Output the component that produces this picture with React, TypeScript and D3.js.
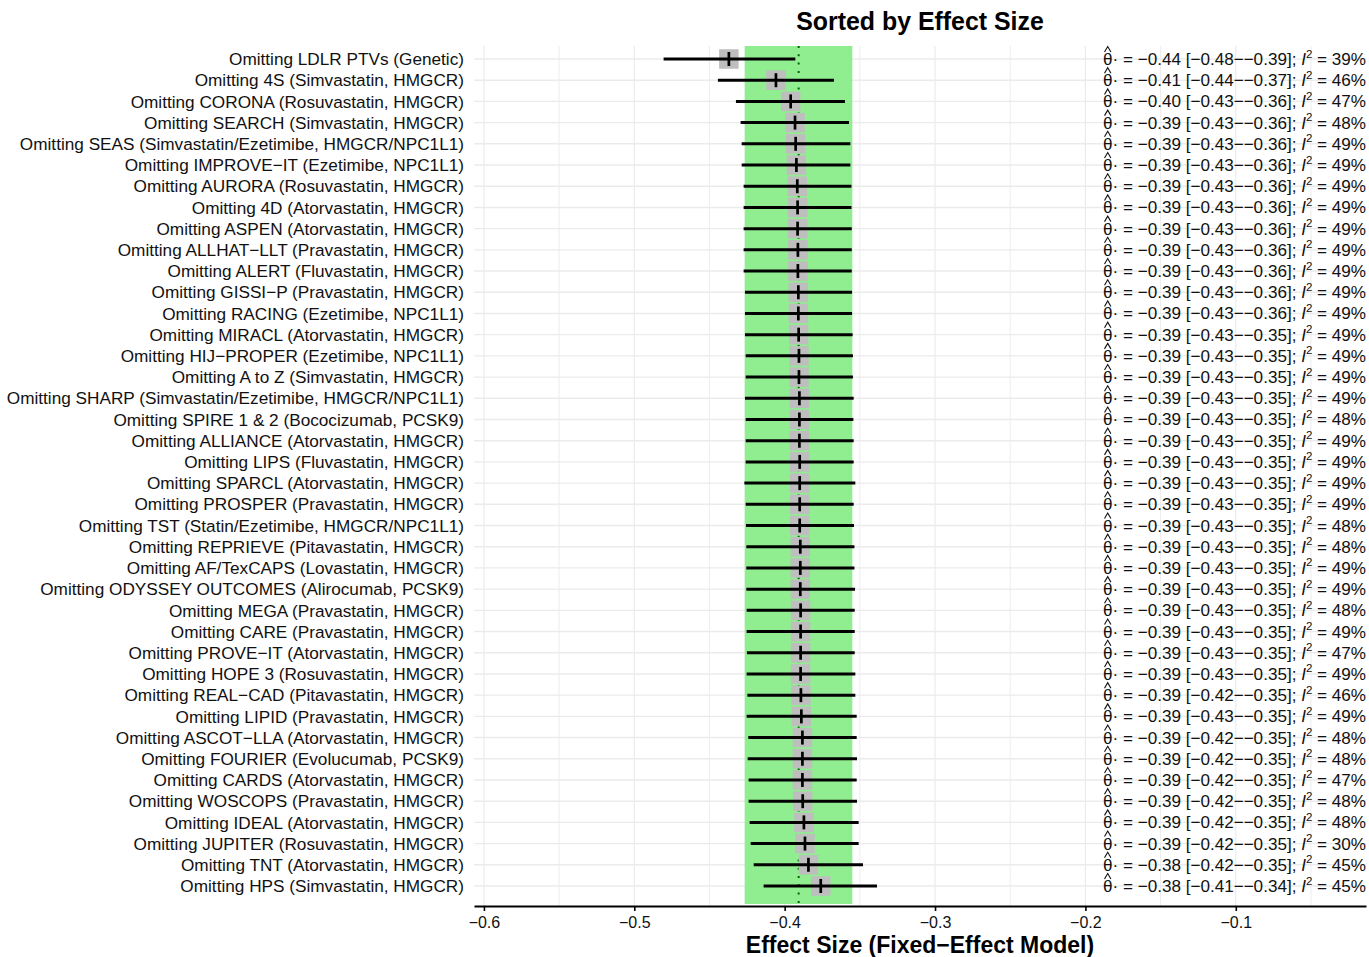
// Leave-one-out forest plot, sorted by pooled effect size.
import { useEffect, useRef } from "react";
import * as d3 from "d3";

const studies = [
  "LDLR PTVs (Genetic)",
  "4S (Simvastatin, HMGCR)",
  "CORONA (Rosuvastatin, HMGCR)",
  "SEARCH (Simvastatin, HMGCR)",
  "SEAS (Simvastatin/Ezetimibe, HMGCR/NPC1L1)",
  "IMPROVE−IT (Ezetimibe, NPC1L1)",
  "AURORA (Rosuvastatin, HMGCR)",
  "4D (Atorvastatin, HMGCR)",
  "ASPEN (Atorvastatin, HMGCR)",
  "ALLHAT−LLT (Pravastatin, HMGCR)",
  "ALERT (Fluvastatin, HMGCR)",
  "GISSI−P (Pravastatin, HMGCR)",
  "RACING (Ezetimibe, NPC1L1)",
  "MIRACL (Atorvastatin, HMGCR)",
  "HIJ−PROPER (Ezetimibe, NPC1L1)",
  "A to Z (Simvastatin, HMGCR)",
  "SHARP (Simvastatin/Ezetimibe, HMGCR/NPC1L1)",
  "SPIRE 1 & 2 (Bococizumab, PCSK9)",
  "ALLIANCE (Atorvastatin, HMGCR)",
  "LIPS (Fluvastatin, HMGCR)",
  "SPARCL (Atorvastatin, HMGCR)",
  "PROSPER (Pravastatin, HMGCR)",
  "TST (Statin/Ezetimibe, HMGCR/NPC1L1)",
  "REPRIEVE (Pitavastatin, HMGCR)",
  "AF/TexCAPS (Lovastatin, HMGCR)",
  "ODYSSEY OUTCOMES (Alirocumab, PCSK9)",
  "MEGA (Pravastatin, HMGCR)",
  "CARE (Pravastatin, HMGCR)",
  "PROVE−IT (Atorvastatin, HMGCR)",
  "HOPE 3 (Rosuvastatin, HMGCR)",
  "REAL−CAD (Pitavastatin, HMGCR)",
  "LIPID (Pravastatin, HMGCR)",
  "ASCOT−LLA (Atorvastatin, HMGCR)",
  "FOURIER (Evolucumab, PCSK9)",
  "CARDS (Atorvastatin, HMGCR)",
  "WOSCOPS (Pravastatin, HMGCR)",
  "IDEAL (Atorvastatin, HMGCR)",
  "JUPITER (Rosuvastatin, HMGCR)",
  "TNT (Atorvastatin, HMGCR)",
  "HPS (Simvastatin, HMGCR)",
];

const estimate = [
  -0.4371, -0.4058, -0.396, -0.3931, -0.3927, -0.3922, -0.3916, -0.3914, -0.3914, -0.3912,
  -0.3912, -0.3909, -0.3909, -0.3907, -0.3905, -0.3905, -0.3902, -0.3902, -0.3902, -0.39,
  -0.39, -0.39, -0.39, -0.3896, -0.3896, -0.3896, -0.3894, -0.3894, -0.3894, -0.3894,
  -0.3892, -0.3889, -0.3882, -0.3882, -0.3882, -0.388, -0.3872, -0.3865, -0.3842, -0.376,
];

const lower = [
  -0.4805, -0.4444, -0.4324, -0.4293, -0.4286, -0.4286, -0.4273, -0.4273, -0.4273, -0.4273,
  -0.4273, -0.4264, -0.4264, -0.4264, -0.4259, -0.4259, -0.4264, -0.4259, -0.4259, -0.4259,
  -0.4268, -0.4259, -0.4257, -0.4255, -0.4255, -0.4255, -0.4253, -0.4253, -0.4251, -0.4253,
  -0.4248, -0.4253, -0.4242, -0.4246, -0.424, -0.424, -0.4233, -0.4226, -0.4206, -0.414,
];

const upper = [
  -0.3929, -0.3672, -0.3599, -0.3572, -0.3563, -0.3563, -0.3556, -0.3556, -0.3554, -0.3554,
  -0.3554, -0.3552, -0.3552, -0.3548, -0.3546, -0.3546, -0.3541, -0.3543, -0.3541, -0.3541,
  -0.353, -0.3541, -0.3539, -0.3536, -0.3536, -0.3532, -0.3534, -0.3534, -0.3534, -0.353,
  -0.353, -0.3521, -0.3521, -0.3519, -0.3521, -0.3519, -0.3508, -0.3508, -0.3479, -0.3386,
];

const i2 = [
  39, 46, 47, 48, 49, 49, 49, 49, 49, 49, 49, 49, 49, 49, 49, 49, 49, 48, 49, 49,
  49, 49, 48, 48, 49, 49, 48, 49, 47, 49, 46, 49, 48, 48, 47, 48, 48, 30, 45, 45,
];

const pooled = { est: -0.3907, lo: -0.4266, hi: -0.355 };
const majorTicks = [-0.6, -0.5, -0.4, -0.3, -0.2, -0.1];
const minorTicks = [-0.55, -0.45, -0.35, -0.25, -0.15, -0.05];

const FONT = "'Liberation Sans', Arial, Helvetica, sans-serif";

export default function App() {
  const svgRef = useRef<SVGSVGElement | null>(null);

  useEffect(() => {
    const svg = d3.select(svgRef.current);
    svg.selectAll("*").remove();
    const W = 1369;
    const H = 957;
    const left = 474;
    const right = 1366;
    const top = 46;
    const bottom = 906;

    svg.attr("viewBox", `0 0 ${W} ${H}`).attr("font-family", FONT);

    const x = d3.scaleLinear().domain([-0.6066, -0.0134]).range([left, right]);
    const y = d3.scalePoint<string>().domain(studies).range([59, 886]);
    const fmt = d3.format(".2f");

    // grid
    const grid = svg.append("g");
    grid
      .selectAll("line.minor")
      .data(minorTicks)
      .join("line")
      .attr("x1", (d) => x(d))
      .attr("x2", (d) => x(d))
      .attr("y1", top)
      .attr("y2", bottom)
      .attr("stroke", "#ebebeb")
      .attr("stroke-width", 0.9);
    grid
      .selectAll("line.major")
      .data(majorTicks)
      .join("line")
      .attr("x1", (d) => x(d))
      .attr("x2", (d) => x(d))
      .attr("y1", top)
      .attr("y2", bottom)
      .attr("stroke", "#ebebeb")
      .attr("stroke-width", 1.2);
    grid
      .selectAll("line.row")
      .data(studies)
      .join("line")
      .attr("x1", left)
      .attr("x2", right)
      .attr("y1", (d) => y(d)!)
      .attr("y2", (d) => y(d)!)
      .attr("stroke", "#ebebeb")
      .attr("stroke-width", 1.4);

    // pooled CI band + estimate
    svg
      .append("rect")
      .attr("x", x(pooled.lo))
      .attr("width", x(pooled.hi) - x(pooled.lo))
      .attr("y", top)
      .attr("height", bottom - 2 - top)
      .attr("fill", "#90ee90");
    svg
      .append("line")
      .attr("x1", x(pooled.est))
      .attr("x2", x(pooled.est))
      .attr("y1", top)
      .attr("y2", bottom)
      .attr("stroke", "#006400")
      .attr("stroke-width", 2)
      .attr("stroke-dasharray", "2 6.3");

    // boxes, CIs, estimate ticks
    const rows = svg
      .append("g")
      .selectAll("g")
      .data(studies.map((s, i) => ({ s, i })))
      .join("g");
    const box = 19.5;
    rows
      .append("rect")
      .attr("x", (d) => x(estimate[d.i]) - box / 2)
      .attr("y", (d) => y(d.s)! - box / 2)
      .attr("width", box)
      .attr("height", box)
      .attr("fill", "#bebebe");
    rows
      .append("line")
      .attr("x1", (d) => x(lower[d.i]))
      .attr("x2", (d) => x(upper[d.i]))
      .attr("y1", (d) => y(d.s)!)
      .attr("y2", (d) => y(d.s)!)
      .attr("stroke", "#000")
      .attr("stroke-width", 3);
    rows
      .append("line")
      .attr("x1", (d) => x(estimate[d.i]))
      .attr("x2", (d) => x(estimate[d.i]))
      .attr("y1", (d) => y(d.s)! - 7)
      .attr("y2", (d) => y(d.s)! + 7)
      .attr("stroke", "#000")
      .attr("stroke-width", 2.7);

    // study labels
    svg
      .append("g")
      .selectAll("text")
      .data(studies)
      .join("text")
      .attr("x", 464)
      .attr("y", (d) => y(d)!)
      .attr("dy", "0.36em")
      .attr("text-anchor", "end")
      .attr("font-size", 17.2)
      .attr("fill", "#111")
      .text((d) => `Omitting ${d}`);

    // annotations on the right
    rows.each(function (d) {
      const g = d3.select(this);
      const yy = y(d.s)!;
      const t = g
        .append("text")
        .attr("x", right)
        .attr("y", yy + 6)
        .attr("text-anchor", "end")
        .attr("font-size", 17.1)
        .attr("fill", "#111");
      t.append("tspan").text("θ");
      t.append("tspan").text("·");
      t.append("tspan").text(
        ` = ${fmt(estimate[d.i])} [${fmt(lower[d.i])}−${fmt(upper[d.i])}]; `
      );
      t.append("tspan").attr("font-style", "italic").text("I");
      t.append("tspan").attr("dy", -7.5).attr("font-size", 11.5).text("2");
      t.append("tspan").attr("dy", 7.5).text(` = ${i2[d.i]}%`);
      const node = t.node() as SVGTextElement;
      const ext = node.getExtentOfChar(0);
      const cx = ext.x + ext.width / 2;
      g.append("path")
        .attr("d", `M${cx - 3.2},${yy - 7} L${cx},${yy - 12.5} L${cx + 3.2},${yy - 7}`)
        .attr("fill", "none")
        .attr("stroke", "#111")
        .attr("stroke-width", 1.1);
    });

    // x axis
    const ax = svg
      .append("g")
      .attr("transform", `translate(0,${bottom})`)
      .call(d3.axisBottom(x).tickValues(majorTicks).tickSize(5).tickSizeOuter(0).tickFormat(d3.format(".1f")));
    ax.select(".domain").attr("stroke", "#000").attr("stroke-width", 2.2);
    ax.selectAll(".tick line").attr("stroke", "#000").attr("stroke-width", 1.6);
    ax.selectAll(".tick text")
      .attr("font-size", 16)
      .attr("font-family", FONT)
      .attr("fill", "#111")
      .attr("dy", "0.9em");

    svg
      .append("text")
      .attr("x", (left + right) / 2)
      .attr("y", 953)
      .attr("text-anchor", "middle")
      .attr("font-weight", "bold")
      .attr("font-size", 23)
      .text("Effect Size (Fixed−Effect Model)");

    svg
      .append("text")
      .attr("x", (left + right) / 2)
      .attr("y", 30)
      .attr("text-anchor", "middle")
      .attr("font-weight", "bold")
      .attr("font-size", 24.9)
      .text("Sorted by Effect Size");
  }, []);

  return (
    <svg
      ref={svgRef}
      width={1369}
      height={957}
      style={{ position: "absolute", left: 0, top: 0, background: "#fff" }}
    />
  );
}
